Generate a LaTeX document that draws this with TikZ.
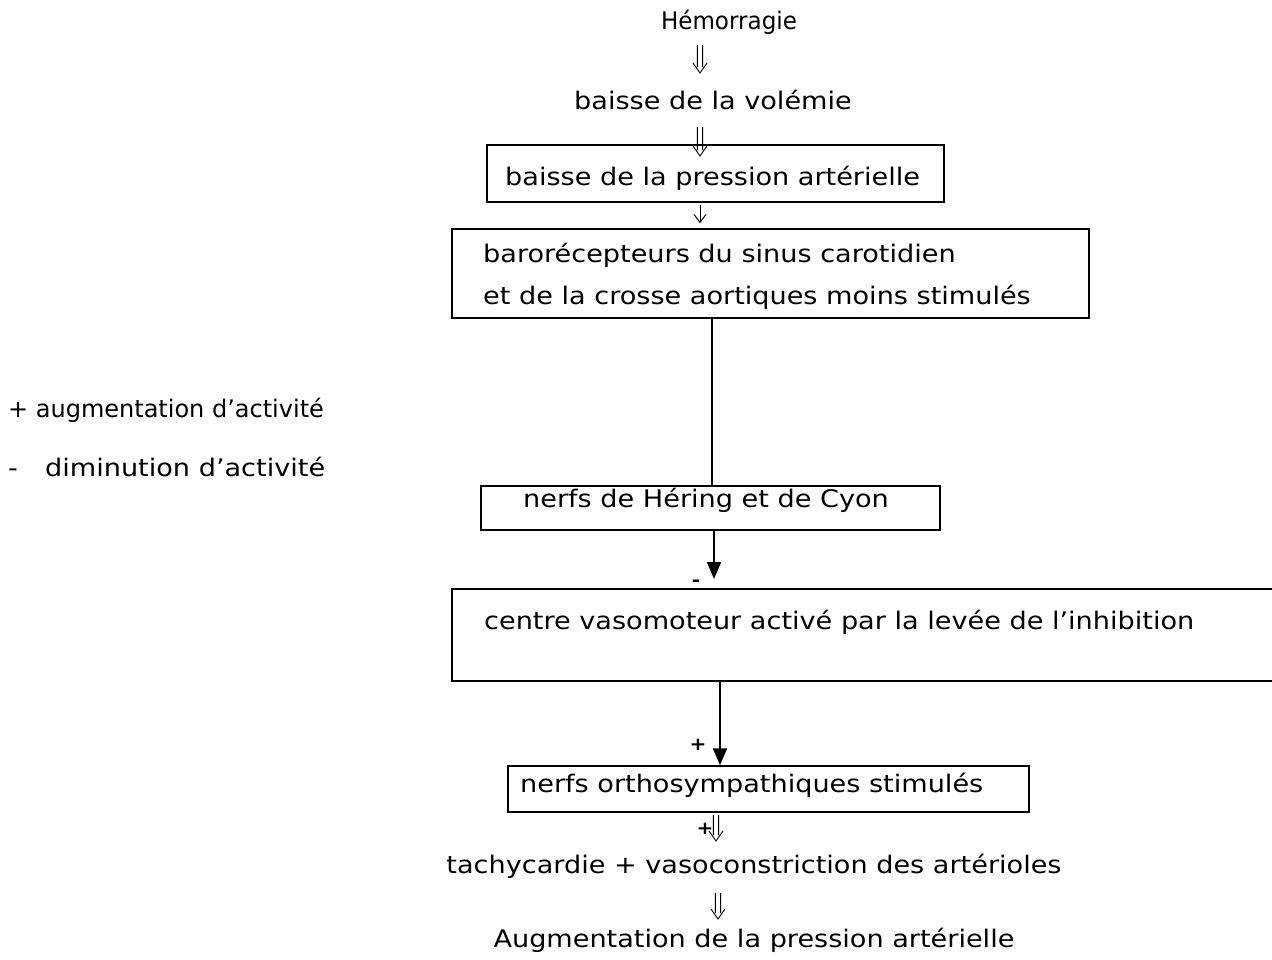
\documentclass[tikz,border=0pt]{standalone}
\usepackage{fontspec}
\setmainfont[FakeStretch=1.12]{DejaVu Sans}
\usetikzlibrary{arrows.meta,calc}
\newcommand\dblarr[2]{\draw[line width=0.9pt]
  ($(#1)+(-2.6,0)$) -- ($(#2)+(-2.6,-6)$)
  ($(#1)+(2.6,0)$) -- ($(#2)+(2.6,-6)$)
  ($(#2)+(-7,-10)$) -- (#2) -- ($(#2)+(7,-10)$);}
\begin{document}
\begin{tikzpicture}[x=1pt,y=-1pt,
  txt/.style={inner sep=0pt, font=\fontsize{24.2}{28}\selectfont},
  box/.style={draw, line width=1.4pt, inner sep=0pt},
  thinarrow/.style={line width=1pt, -{Straight Barb[length=8pt,width=12pt]}},
  plain/.style={line width=1.4pt},
  thick arrow/.style={line width=2pt, -{Triangle[length=17pt,width=14pt]}},
  sign/.style={inner sep=0pt, font=\fontsize{18}{20}\bfseries\selectfont}]
\useasboundingbox (0,0) rectangle (1272,959);
% boxes
\node[box, minimum width=457pt, minimum height=57pt] (b1) at (715.5,173.5) {};
\node[box, minimum width=637pt, minimum height=89pt] (b2) at (770.5,273.5) {};
\node[box, minimum width=459pt, minimum height=44pt] (b3) at (710.5,508) {};
\node[box, minimum width=830pt, minimum height=92pt] (b4) at (867,635) {};
\node[box, minimum width=521pt, minimum height=46pt] (b5) at (768.5,789) {};
% texts
\node[txt] (hemo) at (729,22) {\scalebox{0.85}[1]{Hémorragie}};
\node[txt] (vol) at (713,100) {baisse de la volémie};
\node[txt, anchor=west] (t1) at (505,178) {baisse de la pression artérielle};
\node[txt, anchor=west] (t2a) at (483,255) {barorécepteurs du sinus carotidien};
\node[txt, anchor=west] (t2b) at (483,297) {et de la crosse aortiques moins stimulés};
\node[txt, anchor=west] (t3) at (523,500) {nerfs de Héring et de Cyon};
\node[txt, anchor=west] (t4) at (484,622) {centre vasomoteur activé par la levée de l’inhibition};
\node[txt, anchor=west] (t5) at (520,785) {nerfs orthosympathiques stimulés};
\node[txt] (tach) at (754,866) {tachycardie + vasoconstriction des artérioles};
\node[txt] (aug) at (754,940) {Augmentation de la pression artérielle};
\node[txt, anchor=west] (lg1) at (8,410) {\scalebox{0.885}[1]{+ augmentation d’activité}};
\node[txt, anchor=west] (lg2) at (8,467) {\makebox[37pt][l]{-}diminution d’activité};
% connectors
\coordinate (a1s) at (700,45); \coordinate (a1e) at (700,73);
\dblarr{a1s}{a1e}
\coordinate (a2s) at (700,127); \coordinate (a2e) at (700,156);
\dblarr{a2s}{a2e}
\draw[thinarrow] (b1.south -| 700,0) ++(0,2) -- ($(b2.north -| 700,0)+(0,-5)$);
\draw[plain] (b2.south -| 712,0) -- (b3.north -| 712,0);
\coordinate (c3) at (714,579);
\draw[thick arrow] (b3.south -| c3) -- (c3);
\node[sign] (m1) at (696,583) {-};
\draw[thick arrow] (b4.south -| 720,0) -- (b5.north -| 720,0);
\node[sign] (p1) at (698,745) {+};
\coordinate (a3s) at (716,815); \coordinate (a3e) at (716,841);
\dblarr{a3s}{a3e}
\node[sign] (p2) at (705,829) {+};
\coordinate (a4s) at (718,893); \coordinate (a4e) at (718,919);
\dblarr{a4s}{a4e}
\end{tikzpicture}
\end{document}
